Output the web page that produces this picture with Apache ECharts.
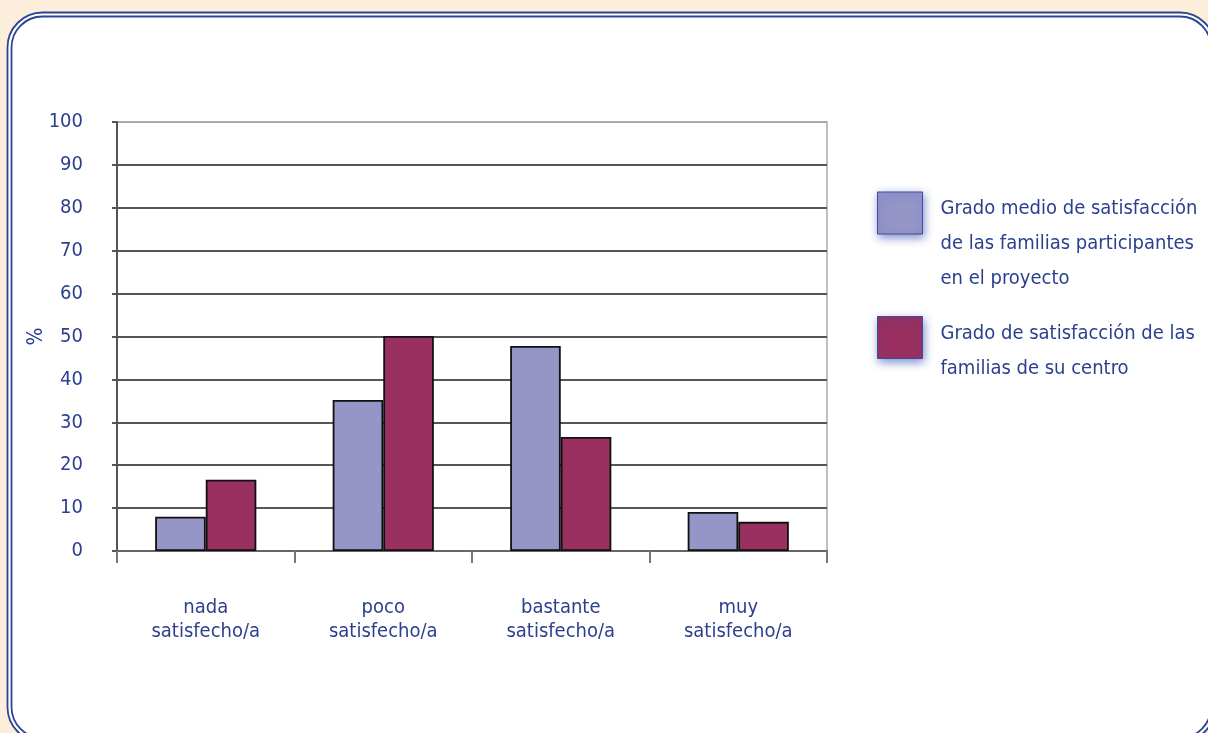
<!DOCTYPE html>
<html>
<head>
<meta charset="utf-8">
<script src="https://cdn.jsdelivr.net/npm/echarts@6/dist/echarts.min.js"></script>
<style>
html,body{margin:0;padding:0;background:#fdeddb;}
#chart{width:1208px;height:733px;}
</style>
</head>
<body>
<div id="chart"></div>
<script>
const categories = ['nada\nsatisfecho/a', 'poco\nsatisfecho/a', 'bastante\nsatisfecho/a', 'muy\nsatisfecho/a'];
const seriesNames = [
  'Grado medio de satisfacción\nde las familias participantes\nen el proyecto',
  'Grado de satisfacción de las\nfamilias de su centro'
];
const mediaValues = [8, 35.2, 47.8, 9.1];
const centroValues = [16.6, 50.1, 26.6, 6.8];
const yTicks = [0, 10, 20, 30, 40, 50, 60, 70, 80, 90, 100];
const yAxisName = '%';

const FONT = "'Liberation Sans Narrow', 'DejaVu Sans Condensed', 'Roboto', sans-serif";
const TXT = '#2b3f8f';
const colors = ['#9595c8', '#993060'];

const chart = echarts.init(document.getElementById('chart'));
const splitColors = yTicks.map((v, i) => i === yTicks.length - 1 ? '#aaaaaa' : '#555555');

const legendBase = {
  orient: 'vertical',
  left: 877,
  padding: 0,
  itemWidth: 45,
  itemHeight: 42,
  selectedMode: false,
  icon: 'rect',
  itemStyle: {
    borderColor: '#3b4c9c',
    borderWidth: 1,
    shadowBlur: 9,
    shadowColor: 'rgba(40,60,170,0.6)',
    shadowOffsetX: 1,
    shadowOffsetY: 3
  }
};

function legendText(spacer) {
  return {
    fontFamily: FONT, fontSize: 20, lineHeight: 35, color: TXT, padding: [0, 0, 0, 13],
    rich: { s: { height: spacer, lineHeight: spacer, fontSize: 2 } }
  };
}

chart.setOption({
  animation: false,
  backgroundColor: '#fdeddb',
  graphic: [
    { type: 'rect', z: -10, shape: { x: 7.5, y: 12.5, width: 1207.5, height: 729.5, r: 35 },
      style: { fill: '#ffffff', stroke: '#2a4596', lineWidth: 1.8 } },
    { type: 'rect', z: -9, shape: { x: 11.5, y: 16.5, width: 1199.5, height: 721.5, r: 31 },
      style: { fill: 'none', stroke: '#2a4596', lineWidth: 1.8 } }
  ],
  grid: { left: 117, right: 381, top: 122, bottom: 182, show: true, borderColor: '#aaaaaa', borderWidth: 1.5 },
  legend: [
    Object.assign({}, legendBase, {
      top: 129.5,
      data: [{ name: seriesNames[0] }],
      formatter: name => '{s| }\n' + name,
      textStyle: legendText(62)
    }),
    Object.assign({}, legendBase, {
      top: 288.5,
      data: [{ name: seriesNames[1] }],
      formatter: name => '{s| }\n' + name,
      textStyle: legendText(28)
    })
  ],
  xAxis: {
    type: 'category',
    data: categories,
    axisLine: { lineStyle: { color: '#666', width: 2 } },
    axisTick: { show: true, length: 12, lineStyle: { color: '#777', width: 2 } },
    axisLabel: { margin: 45, fontFamily: FONT, fontSize: 20, lineHeight: 24, color: TXT },
    splitLine: { show: false }
  },
  yAxis: {
    type: 'value',
    min: 0, max: 100, interval: 10,
    name: yAxisName,
    nameLocation: 'middle',
    nameGap: 70,
    nameRotate: 90,
    nameMoveOverlap: false,
    nameTextStyle: { fontFamily: FONT, fontSize: 21, color: TXT },
    axisLine: { show: true, lineStyle: { color: '#555', width: 2 } },
    axisTick: { show: true, length: 5, lineStyle: { color: '#555', width: 2 } },
    axisLabel: { margin: 34, fontFamily: FONT, fontSize: 20, color: TXT },
    splitLine: { show: true, lineStyle: { color: splitColors, width: 2 } }
  },
  series: [
    { name: seriesNames[0], type: 'bar', data: mediaValues, barGap: '0%', barCategoryGap: '43%',
      itemStyle: { color: colors[0], borderColor: '#111', borderWidth: 1.8 } },
    { name: seriesNames[1], type: 'bar', data: centroValues, barGap: '0%', barCategoryGap: '43%',
      itemStyle: { color: colors[1], borderColor: '#111', borderWidth: 1.8 } }
  ]
});
</script>
</body>
</html>
